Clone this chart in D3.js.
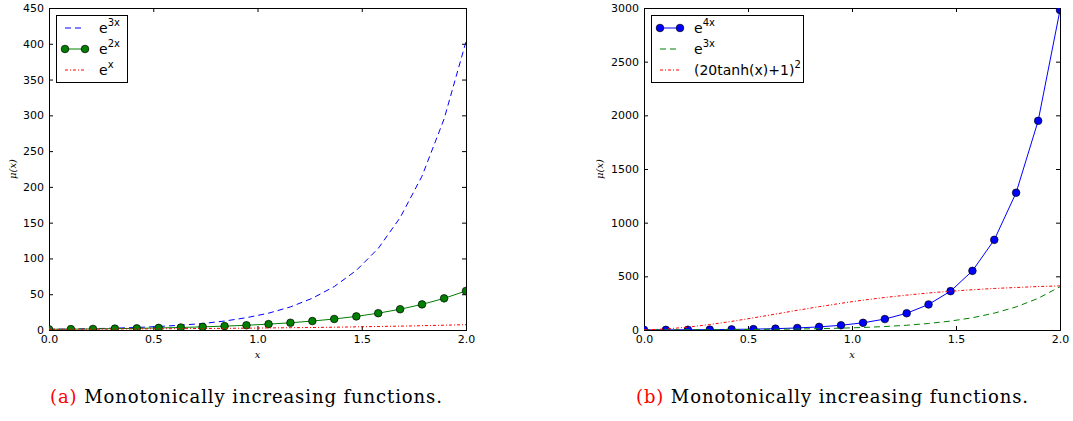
<!DOCTYPE html>
<html>
<head>
<meta charset="utf-8">
<script src="https://cdn.jsdelivr.net/npm/d3@7"></script>
<style>
  body { margin: 0; background: #fff; }
  svg { display: block; }
  .tick text { font-family: "DejaVu Sans", sans-serif; font-size: 11px; fill: #000; }
</style>
</head>
<body>
<svg id="fig" width="1073" height="421"></svg>
<script>
// sample positions (20 points on [0, 2])
const xValues = [0, 0.105, 0.211, 0.316, 0.421, 0.526, 0.632, 0.737, 0.842, 0.947,
                 1.053, 1.158, 1.263, 1.368, 1.474, 1.579, 1.684, 1.789, 1.895, 2.0];

const exp3x = [1, 1.4, 1.9, 2.6, 3.5, 4.9, 6.7, 9.1, 12.5, 17.2,
               23.5, 32.3, 44.3, 60.7, 83.3, 114, 157, 215, 295, 403];
const exp2x = [1, 1.2, 1.5, 1.9, 2.3, 2.9, 3.5, 4.4, 5.4, 6.6,
               8.2, 10.1, 12.5, 15.4, 19.0, 23.5, 29.0, 35.8, 44.2, 54.6];
const expx  = [1, 1.1, 1.2, 1.4, 1.5, 1.7, 1.9, 2.1, 2.3, 2.6,
               2.9, 3.2, 3.5, 3.9, 4.4, 4.9, 5.4, 6.0, 6.7, 7.4];
const exp4x = [1, 1.5, 2.3, 3.5, 5.4, 8.2, 12.5, 19, 29, 44,
               67, 102, 156, 238, 362, 551, 840, 1279, 1949, 2981];
const tanhSq = [1, 9.6, 26.6, 50.7, 80.2, 113, 148, 184, 217, 249,
                278, 303, 325, 345, 361, 375, 387, 396, 405, 411];

const xTicks = [0, 0.5, 1.0, 1.5, 2.0];
const yTicksA = [0, 50, 100, 150, 200, 250, 300, 350, 400, 450];
const yTicksB = [0, 500, 1000, 1500, 2000, 2500, 3000];

const panels = [
  {
    id: "a", left: 49, right: 466, yMax: 450, yTicks: yTicksA,
    caption: "Monotonically increasing functions.", captionX: 246, ylabelX: 16,
    legend: { x: 56, w: 71 },
    series: [
      { name: ["e", "3x"], values: exp3x, color: "#0000ff", dash: "6,4" },
      { name: ["e", "2x"], values: exp2x, color: "#008000", dash: null, marker: true },
      { name: ["e", "x"],  values: expx,  color: "#ff0000", dash: "3,2,1,2" }
    ]
  },
  {
    id: "b", left: 644, right: 1060, yMax: 3000, yTicks: yTicksB,
    caption: "Monotonically increasing functions.", captionX: 832, ylabelX: 603,
    legend: { x: 651, w: 152 },
    series: [
      { name: ["e", "4x"], values: exp4x, color: "#0000ff", dash: null, marker: true },
      { name: ["e", "3x"], values: exp3x, color: "#008000", dash: "6,4" },
      { name: ["(20tanh(x)+1)", "2"], values: tanhSq, color: "#ff0000", dash: "3,2,1,2" }
    ]
  }
];

const svg = d3.select("#fig");
const plotTop = 8, plotBottom = 330;

panels.forEach(p => {
  const x = d3.scaleLinear().domain([0, 2]).range([p.left, p.right]);
  const y = d3.scaleLinear().domain([0, p.yMax]).range([plotBottom, plotTop]);
  const g = svg.append("g");

  g.append("clipPath").attr("id", "clip-" + p.id)
    .append("rect")
    .attr("x", p.left).attr("y", plotTop)
    .attr("width", p.right - p.left).attr("height", plotBottom - plotTop);

  // inward ticks on all four sides, like matplotlib classic
  g.append("g").attr("transform", `translate(0,${plotBottom})`)
    .call(d3.axisBottom(x).tickValues(xTicks).tickFormat(d3.format(".1f")).tickSize(-4).tickPadding(5));
  g.append("g").attr("transform", `translate(0,${plotTop})`)
    .call(d3.axisTop(x).tickValues(xTicks).tickFormat("").tickSize(-4));
  g.append("g").attr("transform", `translate(${p.left},0)`)
    .call(d3.axisLeft(y).tickValues(p.yTicks).tickFormat(d3.format("d")).tickSize(-4).tickPadding(5));
  g.append("g").attr("transform", `translate(${p.right},0)`)
    .call(d3.axisRight(y).tickValues(p.yTicks).tickFormat("").tickSize(-4));
  g.selectAll(".domain").attr("stroke", "#000");
  g.selectAll(".tick line").attr("stroke", "#000");

  const plot = g.append("g").attr("clip-path", `url(#clip-${p.id})`);
  const line = d3.line().x((d, i) => x(xValues[i])).y(d => y(d));

  p.series.forEach(s => {
    plot.append("path")
      .datum(s.values)
      .attr("fill", "none")
      .attr("stroke", s.color)
      .attr("stroke-width", 1)
      .attr("stroke-dasharray", s.dash)
      .attr("d", line);
    if (s.marker) {
      plot.selectAll(null)
        .data(s.values)
        .join("circle")
        .attr("cx", (d, i) => x(xValues[i]))
        .attr("cy", d => y(d))
        .attr("r", 3.8)
        .attr("fill", s.color)
        .attr("stroke", "#000")
        .attr("stroke-width", 0.7);
    }
  });

  // legend
  const lg = g.append("g");
  lg.append("rect")
    .attr("x", p.legend.x + 0.5).attr("y", 15.5)
    .attr("width", p.legend.w).attr("height", 67)
    .attr("fill", "#fff").attr("stroke", "#000").attr("stroke-width", 1);
  p.series.forEach((s, i) => {
    const cy = 28 + i * 21;
    const lx1 = p.legend.x + 9, lx2 = p.legend.x + 29;
    lg.append("line")
      .attr("x1", lx1).attr("x2", lx2).attr("y1", cy).attr("y2", cy)
      .attr("stroke", s.color).attr("stroke-width", 1)
      .attr("stroke-dasharray", s.dash);
    if (s.marker) {
      [lx1, lx2].forEach(mx => lg.append("circle")
        .attr("cx", mx).attr("cy", cy).attr("r", 3.8)
        .attr("fill", s.color).attr("stroke", "#000").attr("stroke-width", 0.7));
    }
    const t = lg.append("text")
      .attr("x", p.legend.x + 43).attr("y", cy + 5)
      .attr("font-family", "DejaVu Sans, sans-serif")
      .attr("font-size", 14);
    t.append("tspan").text(s.name[0]);
    t.append("tspan").attr("dy", -7).attr("font-size", 10).text(s.name[1]);
  });

  // axis labels
  g.append("text")
    .attr("x", (p.left + p.right) / 2).attr("y", 358)
    .attr("text-anchor", "middle")
    .attr("font-family", "DejaVu Serif, serif").attr("font-style", "italic")
    .attr("font-size", 10).text("x");
  g.append("text")
    .attr("transform", `translate(${p.ylabelX},${169}) rotate(-90)`)
    .attr("text-anchor", "middle")
    .attr("font-family", "DejaVu Serif, serif").attr("font-style", "italic")
    .attr("font-size", 10).text("μ(x)");

  // caption
  const c = g.append("text")
    .attr("x", p.captionX - 196).attr("y", 403)
    .attr("textLength", 392)
    .attr("lengthAdjust", "spacing")
    .attr("font-family", "DejaVu Serif, serif")
    .attr("font-size", 18);
  c.append("tspan").attr("fill", "#ff0000").text(`(${p.id})`);
  c.append("tspan").attr("fill", "#000").text(" " + p.caption);
});
</script>
</body>
</html>
